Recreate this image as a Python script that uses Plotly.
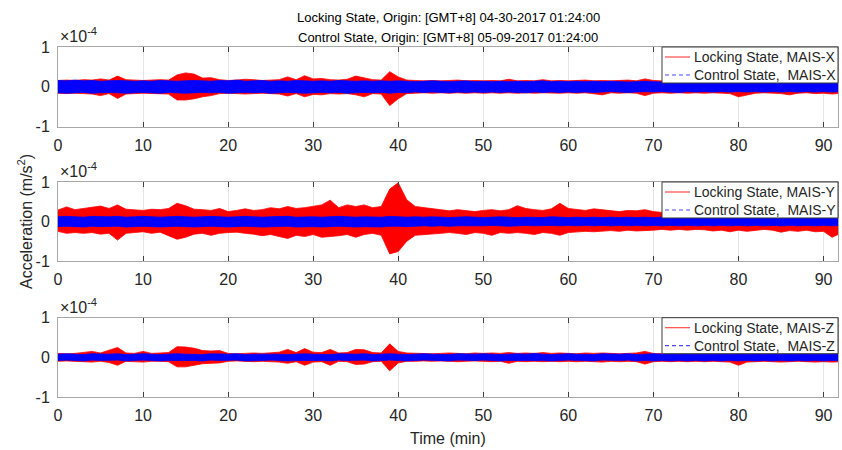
import plotly.graph_objects as go

# Time axis (minutes since origin)
minutes = list(range(93))
tick_vals = [0, 10, 20, 30, 40, 50, 60, 70, 80, 90]

# Per-minute upper / lower envelopes of acceleration, in units of 1e-4 m/s^2
lock_x_hi = [0.16, 0.17, 0.16, 0.18, 0.17, 0.20, 0.17, 0.27, 0.18, 0.17,
             0.16, 0.17, 0.18, 0.17, 0.30, 0.35, 0.32, 0.22, 0.23, 0.18,
             0.16, 0.17, 0.19, 0.18, 0.16, 0.17, 0.18, 0.25, 0.18, 0.28,
             0.20, 0.21, 0.18, 0.17, 0.19, 0.27, 0.22, 0.18, 0.17, 0.38,
             0.25, 0.17, 0.16, 0.15, 0.16, 0.15, 0.16, 0.17, 0.15, 0.16,
             0.15, 0.16, 0.15, 0.19, 0.15, 0.16, 0.15, 0.18, 0.15, 0.16,
             0.15, 0.16, 0.17, 0.15, 0.16, 0.15, 0.16, 0.17, 0.15, 0.20,
             0.16, 0.15, 0.14, 0.15, 0.14, 0.15, 0.14, 0.15, 0.14, 0.15,
             0.14, 0.16, 0.15, 0.14, 0.15, 0.14, 0.15, 0.14, 0.15, 0.14,
             0.15, 0.14, 0.15]
lock_x_lo = [-0.16, -0.17, -0.16, -0.17, -0.18, -0.22, -0.17, -0.29, -0.18, -0.17,
             -0.16, -0.17, -0.17, -0.18, -0.33, -0.33, -0.30, -0.25, -0.22, -0.17,
             -0.16, -0.17, -0.18, -0.17, -0.16, -0.17, -0.18, -0.23, -0.17, -0.25,
             -0.19, -0.20, -0.17, -0.18, -0.17, -0.20, -0.25, -0.17, -0.18, -0.47,
             -0.30, -0.17, -0.16, -0.15, -0.16, -0.15, -0.16, -0.15, -0.16, -0.15,
             -0.16, -0.15, -0.16, -0.15, -0.16, -0.15, -0.16, -0.15, -0.15, -0.16,
             -0.15, -0.16, -0.15, -0.17, -0.20, -0.15, -0.16, -0.15, -0.16, -0.22,
             -0.16, -0.15, -0.16, -0.15, -0.16, -0.15, -0.16, -0.15, -0.16, -0.17,
             -0.25, -0.20, -0.16, -0.15, -0.16, -0.17, -0.20, -0.16, -0.15, -0.17,
             -0.16, -0.18, -0.16]
ctrl_x_hi = [0.16, 0.15, 0.17, 0.15, 0.16, 0.14, 0.15, 0.16, 0.15, 0.14,
             0.15, 0.14, 0.16, 0.15, 0.14, 0.15, 0.16, 0.15, 0.14, 0.16,
             0.15, 0.17, 0.14, 0.15, 0.16, 0.14, 0.15, 0.14, 0.16, 0.15,
             0.14, 0.15, 0.14, 0.16, 0.15, 0.14, 0.15, 0.14, 0.15, 0.14,
             0.15, 0.14, 0.13, 0.14, 0.15, 0.14, 0.13, 0.14, 0.15, 0.13,
             0.14, 0.13, 0.14, 0.13, 0.14, 0.13, 0.14, 0.15, 0.13, 0.14,
             0.13, 0.14, 0.13, 0.14, 0.13, 0.14, 0.13, 0.12, 0.13, 0.14,
             0.13, 0.12, 0.13, 0.12, 0.13, 0.12, 0.13, 0.12, 0.13, 0.12,
             0.13, 0.12, 0.13, 0.12, 0.13, 0.12, 0.13, 0.12, 0.13, 0.12,
             0.13, 0.12, 0.13]
ctrl_x_lo = [-0.15, -0.16, -0.15, -0.14, -0.16, -0.15, -0.14, -0.15, -0.16, -0.15,
             -0.14, -0.15, -0.16, -0.14, -0.15, -0.16, -0.15, -0.14, -0.15, -0.14,
             -0.16, -0.15, -0.14, -0.15, -0.14, -0.16, -0.15, -0.14, -0.15, -0.16,
             -0.15, -0.14, -0.15, -0.14, -0.16, -0.15, -0.14, -0.15, -0.14, -0.16,
             -0.14, -0.15, -0.13, -0.14, -0.13, -0.14, -0.15, -0.13, -0.14, -0.13,
             -0.14, -0.13, -0.14, -0.13, -0.14, -0.15, -0.13, -0.14, -0.13, -0.14,
             -0.13, -0.14, -0.13, -0.14, -0.13, -0.12, -0.13, -0.14, -0.13, -0.12,
             -0.13, -0.12, -0.13, -0.14, -0.12, -0.13, -0.12, -0.13, -0.12, -0.13,
             -0.12, -0.13, -0.12, -0.13, -0.12, -0.13, -0.12, -0.13, -0.12, -0.13,
             -0.12, -0.13, -0.12]

lock_y_hi = [0.29, 0.37, 0.30, 0.33, 0.36, 0.39, 0.33, 0.42, 0.31, 0.30,
             0.28, 0.31, 0.30, 0.33, 0.46, 0.40, 0.31, 0.30, 0.28, 0.33,
             0.25, 0.28, 0.32, 0.28, 0.30, 0.35, 0.32, 0.38, 0.33, 0.35,
             0.38, 0.42, 0.54, 0.35, 0.42, 0.38, 0.42, 0.35, 0.38, 0.82,
             0.98, 0.55, 0.38, 0.35, 0.33, 0.30, 0.27, 0.30, 0.28, 0.25,
             0.28, 0.30, 0.27, 0.30, 0.40, 0.33, 0.30, 0.28, 0.32, 0.46,
             0.33, 0.30, 0.28, 0.32, 0.30, 0.27, 0.25, 0.28, 0.27, 0.30,
             0.25, 0.23, 0.22, 0.24, 0.21, 0.23, 0.22, 0.24, 0.21, 0.22,
             0.23, 0.21, 0.22, 0.24, 0.21, 0.22, 0.23, 0.21, 0.22, 0.24,
             0.22, 0.23, 0.21]
lock_y_lo = [-0.25, -0.30, -0.28, -0.30, -0.28, -0.32, -0.30, -0.47, -0.30, -0.28,
             -0.26, -0.30, -0.27, -0.35, -0.45, -0.40, -0.32, -0.30, -0.35, -0.30,
             -0.28, -0.27, -0.30, -0.32, -0.36, -0.33, -0.38, -0.43, -0.35, -0.38,
             -0.33, -0.40, -0.38, -0.36, -0.33, -0.40, -0.33, -0.30, -0.35, -0.82,
             -0.76, -0.50, -0.35, -0.33, -0.32, -0.30, -0.28, -0.30, -0.33, -0.28,
             -0.30, -0.35, -0.28, -0.30, -0.28, -0.30, -0.33, -0.28, -0.30, -0.35,
             -0.28, -0.27, -0.25, -0.26, -0.25, -0.23, -0.25, -0.22, -0.24, -0.23,
             -0.22, -0.20, -0.22, -0.20, -0.22, -0.20, -0.21, -0.24, -0.22, -0.26,
             -0.22, -0.25, -0.22, -0.20, -0.22, -0.27, -0.23, -0.25, -0.22, -0.26,
             -0.25, -0.40, -0.30]
ctrl_y_hi = [0.12, 0.13, 0.12, 0.11, 0.13, 0.12, 0.12, 0.13, 0.11, 0.12,
             0.13, 0.12, 0.11, 0.12, 0.13, 0.12, 0.11, 0.12, 0.13, 0.12,
             0.11, 0.12, 0.13, 0.12, 0.11, 0.12, 0.12, 0.13, 0.11, 0.12,
             0.12, 0.11, 0.12, 0.13, 0.12, 0.11, 0.12, 0.12, 0.11, 0.13,
             0.12, 0.11, 0.12, 0.11, 0.12, 0.11, 0.10, 0.11, 0.12, 0.11,
             0.10, 0.11, 0.12, 0.11, 0.10, 0.11, 0.11, 0.10, 0.12, 0.11,
             0.10, 0.11, 0.10, 0.11, 0.10, 0.11, 0.10, 0.11, 0.10, 0.11,
             0.10, 0.11, 0.10, 0.11, 0.10, 0.11, 0.10, 0.11, 0.10, 0.11,
             0.10, 0.11, 0.10, 0.11, 0.10, 0.11, 0.10, 0.11, 0.10, 0.11,
             0.10, 0.11, 0.10]
ctrl_y_lo = [-0.13, -0.12, -0.13, -0.14, -0.12, -0.13, -0.13, -0.12, -0.14, -0.13,
             -0.12, -0.13, -0.14, -0.13, -0.12, -0.13, -0.14, -0.13, -0.12, -0.13,
             -0.14, -0.13, -0.12, -0.13, -0.14, -0.13, -0.13, -0.12, -0.14, -0.13,
             -0.13, -0.14, -0.13, -0.12, -0.13, -0.14, -0.13, -0.13, -0.14, -0.12,
             -0.12, -0.13, -0.12, -0.11, -0.12, -0.11, -0.12, -0.11, -0.10, -0.11,
             -0.11, -0.10, -0.11, -0.12, -0.11, -0.10, -0.11, -0.11, -0.10, -0.11,
             -0.10, -0.11, -0.10, -0.11, -0.10, -0.11, -0.10, -0.11, -0.10, -0.11,
             -0.10, -0.11, -0.10, -0.11, -0.10, -0.11, -0.10, -0.11, -0.10, -0.11,
             -0.10, -0.11, -0.10, -0.11, -0.10, -0.11, -0.10, -0.11, -0.10, -0.11,
             -0.10, -0.11, -0.10]

lock_z_hi = [0.10, 0.09, 0.10, 0.12, 0.15, 0.11, 0.19, 0.25, 0.11, 0.10,
             0.15, 0.10, 0.11, 0.12, 0.27, 0.26, 0.23, 0.17, 0.16, 0.17,
             0.10, 0.09, 0.10, 0.11, 0.10, 0.12, 0.13, 0.20, 0.12, 0.22,
             0.13, 0.12, 0.20, 0.11, 0.12, 0.20, 0.19, 0.12, 0.11, 0.34,
             0.15, 0.11, 0.10, 0.10, 0.09, 0.10, 0.11, 0.10, 0.09, 0.11,
             0.10, 0.11, 0.10, 0.12, 0.10, 0.11, 0.10, 0.12, 0.10, 0.11,
             0.10, 0.09, 0.11, 0.10, 0.11, 0.10, 0.09, 0.10, 0.11, 0.15,
             0.10, 0.09, 0.10, 0.09, 0.10, 0.09, 0.10, 0.09, 0.10, 0.09,
             0.10, 0.09, 0.10, 0.09, 0.10, 0.09, 0.10, 0.09, 0.10, 0.09,
             0.10, 0.09, 0.10]
lock_z_lo = [-0.10, -0.09, -0.10, -0.11, -0.12, -0.10, -0.13, -0.20, -0.10, -0.11,
             -0.12, -0.10, -0.10, -0.11, -0.24, -0.24, -0.20, -0.16, -0.15, -0.14,
             -0.10, -0.09, -0.10, -0.11, -0.10, -0.11, -0.12, -0.15, -0.11, -0.20,
             -0.12, -0.11, -0.20, -0.10, -0.11, -0.18, -0.17, -0.11, -0.10, -0.34,
             -0.14, -0.10, -0.10, -0.09, -0.10, -0.09, -0.10, -0.11, -0.10, -0.09,
             -0.10, -0.11, -0.10, -0.15, -0.10, -0.11, -0.10, -0.11, -0.10, -0.11,
             -0.10, -0.11, -0.10, -0.11, -0.12, -0.10, -0.11, -0.10, -0.11, -0.17,
             -0.11, -0.10, -0.11, -0.10, -0.11, -0.10, -0.11, -0.10, -0.11, -0.12,
             -0.20, -0.12, -0.11, -0.10, -0.11, -0.12, -0.11, -0.10, -0.11, -0.12,
             -0.11, -0.12, -0.11]
ctrl_z_hi = [0.08, 0.09, 0.08, 0.07, 0.09, 0.08, 0.08, 0.09, 0.07, 0.08,
             0.09, 0.08, 0.07, 0.08, 0.09, 0.08, 0.08, 0.07, 0.09, 0.08,
             0.08, 0.09, 0.07, 0.08, 0.08, 0.09, 0.08, 0.07, 0.08, 0.09,
             0.08, 0.08, 0.07, 0.09, 0.08, 0.08, 0.09, 0.07, 0.08, 0.09,
             0.08, 0.07, 0.08, 0.09, 0.08, 0.08, 0.07, 0.09, 0.08, 0.08,
             0.09, 0.08, 0.07, 0.08, 0.09, 0.08, 0.10, 0.08, 0.07, 0.08,
             0.09, 0.08, 0.08, 0.07, 0.09, 0.08, 0.08, 0.09, 0.07, 0.08,
             0.09, 0.08, 0.09, 0.08, 0.09, 0.08, 0.09, 0.08, 0.09, 0.08,
             0.09, 0.08, 0.09, 0.08, 0.09, 0.08, 0.09, 0.08, 0.09, 0.08,
             0.09, 0.08, 0.09]
ctrl_z_lo = [-0.08, -0.07, -0.08, -0.09, -0.07, -0.08, -0.08, -0.07, -0.09, -0.08,
             -0.07, -0.08, -0.09, -0.08, -0.07, -0.08, -0.08, -0.09, -0.07, -0.08,
             -0.08, -0.07, -0.09, -0.08, -0.08, -0.07, -0.08, -0.09, -0.08, -0.07,
             -0.08, -0.08, -0.09, -0.07, -0.08, -0.08, -0.07, -0.09, -0.08, -0.07,
             -0.08, -0.09, -0.08, -0.07, -0.08, -0.08, -0.09, -0.07, -0.08, -0.08,
             -0.07, -0.08, -0.09, -0.08, -0.07, -0.08, -0.08, -0.08, -0.09, -0.08,
             -0.07, -0.08, -0.08, -0.09, -0.07, -0.08, -0.08, -0.07, -0.09, -0.08,
             -0.09, -0.08, -0.09, -0.08, -0.09, -0.08, -0.09, -0.08, -0.09, -0.08,
             -0.09, -0.08, -0.09, -0.08, -0.09, -0.08, -0.09, -0.08, -0.09, -0.08,
             -0.09, -0.08, -0.09]

channels = ["X", "Y", "Z"]
lock_hi = [lock_x_hi, lock_y_hi, lock_z_hi]
lock_lo = [lock_x_lo, lock_y_lo, lock_z_lo]
ctrl_hi = [ctrl_x_hi, ctrl_y_hi, ctrl_z_hi]
ctrl_lo = [ctrl_x_lo, ctrl_y_lo, ctrl_z_lo]

title_lines = ["Locking State, Origin: [GMT+8] 04-30-2017 01:24:00",
               "Control State, Origin: [GMT+8] 05-09-2017 01:24:00"]

FONT = "Arial, 'Liberation Sans', Helvetica, sans-serif"
TEXT = "#262626"
RED = "#ff0000"
BLUE = "#0000ff"

W, H = 842, 450
ML, MR, MT, MB = 58, 4, 47, 53
PW, PH = W - ML - MR, H - MT - MB

def px_x(p):
    """pixel column -> paper x"""
    return (p - ML) / PW

def px_y(p):
    """pixel row -> paper y"""
    return (H - MB - p) / PH

# vertical domains of the three stacked panels
domains = [[0.7723, 1.0], [0.3886, 0.6143], [0.0, 0.2266]]

fig = go.Figure()
band_x = minutes + minutes[::-1]
shapes = []
for i, ch in enumerate(channels):
    n = "" if i == 0 else str(i + 1)
    xa, ya = "x" + n, "y" + n
    fig.add_trace(go.Scatter(
        x=band_x, y=lock_hi[i] + lock_lo[i][::-1], mode="lines",
        fill="toself", fillcolor=RED, line=dict(color=RED, width=0.8),
        xaxis=xa, yaxis=ya, showlegend=False, hoverinfo="skip",
        name=f"Locking State, MAIS-{ch}"))
    fig.add_trace(go.Scatter(
        x=band_x, y=ctrl_hi[i] + ctrl_lo[i][::-1], mode="lines",
        fill="toself", fillcolor=BLUE, line=dict(color=BLUE, width=0.8),
        xaxis=xa, yaxis=ya, showlegend=False, hoverinfo="skip",
        name=f"Control State, MAIS-{ch}"))

    xaxis = dict(
        domain=[0, 1], anchor=ya, range=[0, 91.7], tickvals=tick_vals,
        showgrid=True, gridcolor="#e4e4e4", gridwidth=1, zeroline=False,
        showline=True, linecolor="#a8a8a8", linewidth=1, mirror="ticks",
        ticks="inside", ticklen=5, tickcolor="#404040", tickwidth=1,
        tickfont=dict(family=FONT, size=16, color=TEXT), ticklabelstandoff=4)
    yaxis = dict(
        domain=domains[i], anchor=xa, range=[-1, 1], tickvals=[-1, 0, 1],
        ticktext=["-1", "0", "1"], showgrid=False, zeroline=False,
        showline=True, linecolor="#a8a8a8", linewidth=1, mirror=True,
        ticks="", tickfont=dict(family=FONT, size=16, color=TEXT),
        ticklabelstandoff=4)
    fig.update_layout({"xaxis" + n: xaxis, "yaxis" + n: yaxis})

    # exponent label above each panel
    fig.add_annotation(
        text="\u00d710<sup>-4</sup>", xref="paper", yref="paper",
        x=0.0, y=domains[i][1], xanchor="left", yanchor="bottom",
        showarrow=False, font=dict(family=FONT, size=16, color=TEXT))

    # legend box in the top-right corner of each panel
    top = H - MB - domains[i][1] * PH
    shapes.append(dict(
        type="rect", xref="paper", yref="paper", layer="above",
        x0=px_x(662), x1=px_x(838), y0=px_y(top + 36), y1=px_y(top),
        fillcolor="white", line=dict(color="#3a3a3a", width=1)))
    rows = [(f"Locking State, MAIS-{ch}", "#ff4a4a", "solid", top + 10),
            (f"Control State,\u00a0 MAIS-{ch}", "#4a4aff", "4px,3px", top + 28)]
    for label, col, dash, yrow in rows:
        shapes.append(dict(
            type="line", xref="paper", yref="paper", layer="above",
            x0=px_x(665), x1=px_x(690), y0=px_y(yrow), y1=px_y(yrow),
            line=dict(color=col, width=1.2, dash=dash)))
        fig.add_annotation(
            text=label, xref="paper", yref="paper", x=px_x(693),
            y=px_y(yrow), xanchor="left", yanchor="middle", showarrow=False,
            borderpad=0, font=dict(family=FONT, size=14, color=TEXT))

for k, line in enumerate(title_lines):
    fig.add_annotation(
        text=line, xref="paper", yref="paper", x=0.5, y=px_y([17, 37][k]),
        xanchor="center", yanchor="middle", showarrow=False,
        font=dict(family=FONT, size=13, color="#000000"))

fig.add_annotation(
    text="Acceleration (m/s<sup>2</sup>)", xref="paper", yref="paper",
    x=px_x(25), y=px_y(222), textangle=-90, xanchor="center",
    yanchor="middle", showarrow=False,
    font=dict(family=FONT, size=16, color=TEXT))
fig.add_annotation(
    text="Time (min)", xref="paper", yref="paper", x=0.5, y=px_y(438),
    xanchor="center", yanchor="middle", showarrow=False,
    font=dict(family=FONT, size=16, color=TEXT))

fig.update_layout(
    width=W, height=H, margin=dict(l=ML, r=MR, t=MT, b=MB),
    paper_bgcolor="white", plot_bgcolor="white", showlegend=False,
    shapes=shapes)

fig.write_html("out.html")
